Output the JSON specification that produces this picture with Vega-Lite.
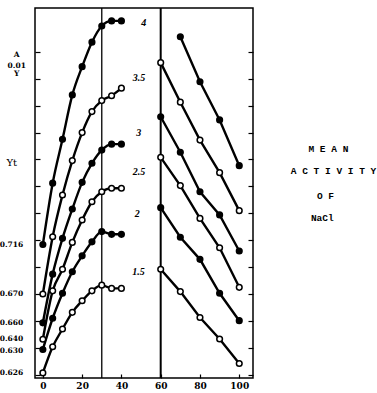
{
  "$schema": "https://vega.github.io/schema/vega-lite/v6.json",
  "width": 218,
  "height": 370,
  "autosize": {"type": "none"},
  "padding": {"left": 35, "top": 8, "right": 124, "bottom": 15},
  "background": "white",
  "config": {
    "view": {"stroke": "black", "strokeWidth": 1.5},
    "axis": {"grid": false, "domain": false, "tickColor": "black", "tickWidth": 1.2}
  },
  "datasets": {
    "rules": [{"x": 30}, {"x": 60}],
    "curves": [
      {"m": "4", "panel": "L", "marker": "filled", "x": 0, "y": 4.84},
      {"m": "4", "panel": "L", "marker": "filled", "x": 5, "y": 7.12},
      {"m": "4", "panel": "L", "marker": "filled", "x": 10, "y": 8.75},
      {"m": "4", "panel": "L", "marker": "filled", "x": 15, "y": 10.40},
      {"m": "4", "panel": "L", "marker": "filled", "x": 20, "y": 11.45},
      {"m": "4", "panel": "L", "marker": "filled", "x": 25, "y": 12.36},
      {"m": "4", "panel": "L", "marker": "filled", "x": 30, "y": 12.96},
      {"m": "4", "panel": "L", "marker": "filled", "x": 35, "y": 13.15},
      {"m": "4", "panel": "L", "marker": "filled", "x": 40, "y": 13.15},
      {"m": "3.5", "panel": "L", "marker": "open", "x": 0, "y": 3.00},
      {"m": "3.5", "panel": "L", "marker": "open", "x": 5, "y": 5.13},
      {"m": "3.5", "panel": "L", "marker": "open", "x": 10, "y": 6.68},
      {"m": "3.5", "panel": "L", "marker": "open", "x": 15, "y": 7.96},
      {"m": "3.5", "panel": "L", "marker": "open", "x": 20, "y": 9.00},
      {"m": "3.5", "panel": "L", "marker": "open", "x": 25, "y": 9.78},
      {"m": "3.5", "panel": "L", "marker": "open", "x": 30, "y": 10.19},
      {"m": "3.5", "panel": "L", "marker": "open", "x": 35, "y": 10.37},
      {"m": "3.5", "panel": "L", "marker": "open", "x": 40, "y": 10.65},
      {"m": "3", "panel": "L", "marker": "filled", "x": 0, "y": 1.93},
      {"m": "3", "panel": "L", "marker": "filled", "x": 5, "y": 3.74},
      {"m": "3", "panel": "L", "marker": "filled", "x": 10, "y": 5.07},
      {"m": "3", "panel": "L", "marker": "filled", "x": 15, "y": 6.16},
      {"m": "3", "panel": "L", "marker": "filled", "x": 20, "y": 7.15},
      {"m": "3", "panel": "L", "marker": "filled", "x": 25, "y": 7.86},
      {"m": "3", "panel": "L", "marker": "filled", "x": 30, "y": 8.35},
      {"m": "3", "panel": "L", "marker": "filled", "x": 35, "y": 8.57},
      {"m": "3", "panel": "L", "marker": "filled", "x": 40, "y": 8.57},
      {"m": "2.5", "panel": "L", "marker": "open", "x": 0, "y": 1.32},
      {"m": "2.5", "panel": "L", "marker": "open", "x": 5, "y": 3.12},
      {"m": "2.5", "panel": "L", "marker": "open", "x": 10, "y": 3.92},
      {"m": "2.5", "panel": "L", "marker": "open", "x": 15, "y": 4.92},
      {"m": "2.5", "panel": "L", "marker": "open", "x": 20, "y": 5.75},
      {"m": "2.5", "panel": "L", "marker": "open", "x": 25, "y": 6.43},
      {"m": "2.5", "panel": "L", "marker": "open", "x": 30, "y": 6.80},
      {"m": "2.5", "panel": "L", "marker": "open", "x": 35, "y": 6.93},
      {"m": "2.5", "panel": "L", "marker": "open", "x": 40, "y": 6.93},
      {"m": "2", "panel": "L", "marker": "filled", "x": 0, "y": 0.94},
      {"m": "2", "panel": "L", "marker": "filled", "x": 5, "y": 2.10},
      {"m": "2", "panel": "L", "marker": "filled", "x": 10, "y": 3.03},
      {"m": "2", "panel": "L", "marker": "filled", "x": 15, "y": 3.83},
      {"m": "2", "panel": "L", "marker": "filled", "x": 20, "y": 4.42},
      {"m": "2", "panel": "L", "marker": "filled", "x": 25, "y": 4.94},
      {"m": "2", "panel": "L", "marker": "filled", "x": 30, "y": 5.32},
      {"m": "2", "panel": "L", "marker": "filled", "x": 35, "y": 5.22},
      {"m": "2", "panel": "L", "marker": "filled", "x": 40, "y": 5.22},
      {"m": "1.5", "panel": "L", "marker": "open", "x": 0, "y": 0.07},
      {"m": "1.5", "panel": "L", "marker": "open", "x": 5, "y": 1.04},
      {"m": "1.5", "panel": "L", "marker": "open", "x": 10, "y": 1.70},
      {"m": "1.5", "panel": "L", "marker": "open", "x": 15, "y": 2.32},
      {"m": "1.5", "panel": "L", "marker": "open", "x": 20, "y": 2.75},
      {"m": "1.5", "panel": "L", "marker": "open", "x": 25, "y": 3.12},
      {"m": "1.5", "panel": "L", "marker": "open", "x": 30, "y": 3.33},
      {"m": "1.5", "panel": "L", "marker": "open", "x": 35, "y": 3.21},
      {"m": "1.5", "panel": "L", "marker": "open", "x": 40, "y": 3.21},
      {"m": "4", "panel": "R", "marker": "filled", "x": 70, "y": 12.56},
      {"m": "4", "panel": "R", "marker": "filled", "x": 80, "y": 10.89},
      {"m": "4", "panel": "R", "marker": "filled", "x": 90, "y": 9.47},
      {"m": "4", "panel": "R", "marker": "filled", "x": 100, "y": 7.77},
      {"m": "3.5", "panel": "R", "marker": "open", "x": 60, "y": 11.60},
      {"m": "3.5", "panel": "R", "marker": "open", "x": 70, "y": 10.13},
      {"m": "3.5", "panel": "R", "marker": "open", "x": 80, "y": 8.72},
      {"m": "3.5", "panel": "R", "marker": "open", "x": 90, "y": 7.51},
      {"m": "3.5", "panel": "R", "marker": "open", "x": 100, "y": 6.10},
      {"m": "3", "panel": "R", "marker": "filled", "x": 60, "y": 9.59},
      {"m": "3", "panel": "R", "marker": "filled", "x": 70, "y": 8.27},
      {"m": "3", "panel": "R", "marker": "filled", "x": 80, "y": 6.80},
      {"m": "3", "panel": "R", "marker": "filled", "x": 90, "y": 5.94},
      {"m": "3", "panel": "R", "marker": "filled", "x": 100, "y": 4.60},
      {"m": "2.5", "panel": "R", "marker": "open", "x": 60, "y": 8.08},
      {"m": "2.5", "panel": "R", "marker": "open", "x": 70, "y": 7.03},
      {"m": "2.5", "panel": "R", "marker": "open", "x": 80, "y": 5.81},
      {"m": "2.5", "panel": "R", "marker": "open", "x": 90, "y": 4.72},
      {"m": "2.5", "panel": "R", "marker": "open", "x": 100, "y": 3.25},
      {"m": "2", "panel": "R", "marker": "filled", "x": 60, "y": 6.21},
      {"m": "2", "panel": "R", "marker": "filled", "x": 70, "y": 5.11},
      {"m": "2", "panel": "R", "marker": "filled", "x": 80, "y": 4.29},
      {"m": "2", "panel": "R", "marker": "filled", "x": 90, "y": 3.03},
      {"m": "2", "panel": "R", "marker": "filled", "x": 100, "y": 2.01},
      {"m": "1.5", "panel": "R", "marker": "open", "x": 60, "y": 3.92},
      {"m": "1.5", "panel": "R", "marker": "open", "x": 70, "y": 3.09},
      {"m": "1.5", "panel": "R", "marker": "open", "x": 80, "y": 2.13},
      {"m": "1.5", "panel": "R", "marker": "open", "x": 90, "y": 1.33},
      {"m": "1.5", "panel": "R", "marker": "open", "x": 100, "y": 0.42}
    ],
    "mlabels": [
      {"x": 51.4, "y": 13.09, "label": "4"},
      {"x": 49.0, "y": 11.02, "label": "3.5"},
      {"x": 48.8, "y": 8.97, "label": "3"},
      {"x": 49.0, "y": 7.52, "label": "2.5"},
      {"x": 48.0, "y": 5.97, "label": "2"},
      {"x": 48.7, "y": 3.83, "label": "1.5"}
    ],
    "ylabels": [
      {"x": -16, "y": 4.82, "label": "0.716"},
      {"x": -16, "y": 2.99, "label": "0.670"},
      {"x": -16, "y": 1.91, "label": "0.660"},
      {"x": -16, "y": 1.32, "label": "0.640"},
      {"x": -16, "y": 0.89, "label": "0.630"},
      {"x": -16, "y": 0.07, "label": "0.626"},
      {"x": -13.3, "y": 11.88, "label": "A"},
      {"x": -13.3, "y": 11.49, "label": "0.01"},
      {"x": -13.3, "y": 11.18, "label": "Y"}
    ],
    "ytitle": [{"x": -15.8, "y": 7.87, "label": "Yt"}],
    "title": [
      {"x": 145.4, "y": 8.39, "label": "M E A N"},
      {"x": 148.0, "y": 7.57, "label": "A C T I V I T Y"},
      {"x": 143.9, "y": 6.64, "label": "O F"},
      {"x": 142.3, "y": 5.83, "label": "NaCl"}
    ]
  },
  "encoding": {
    "x": {
      "field": "x",
      "type": "quantitative",
      "title": null,
      "scale": {"domain": [-4, 107], "nice": false, "zero": false},
      "axis": {
        "values": [0, 20, 40, 60, 80, 100],
        "offset": -4,
        "tickSize": 4,
        "labelFont": "DejaVu Serif",
        "labelFontWeight": "bold",
        "labelFontSize": 9,
        "labelColor": "black",
        "labelPadding": 3,
        "title": null
      }
    }
  },
  "layer": [
    {
      "data": {"name": "rules"},
      "transform": [{"filter": "datum.x == 30"}],
      "mark": {"type": "rule", "color": "black", "strokeWidth": 1.3},
      "encoding": {}
    },
    {
      "data": {"name": "rules"},
      "transform": [{"filter": "datum.x == 60"}],
      "mark": {"type": "rule", "color": "black", "strokeWidth": 2},
      "encoding": {}
    },
    {
      "data": {"name": "curves"},
      "transform": [{"filter": "datum.panel == 'L'"}],
      "mark": {"type": "line", "interpolate": "monotone", "color": "black", "strokeWidth": 2.4},
      "encoding": {
        "y": {"field": "y", "type": "quantitative", "title": null,
              "scale": {"domain": [-0.12, 13.63], "nice": false, "zero": false},
              "axis": {"orient": "left", "values": [0,1,2,3,4,5,6,7,8,9,10,11,12], "offset": -5, "tickSize": 5, "labels": false, "title": null}},
        "detail": {"field": "m"}
      }
    },
    {
      "data": {"name": "curves"},
      "transform": [{"filter": "datum.panel == 'R'"}],
      "mark": {"type": "line", "color": "black", "strokeWidth": 2.4},
      "encoding": {
        "y": {"field": "y", "type": "quantitative", "title": null,
              "scale": {"domain": [-0.12, 13.63], "nice": false, "zero": false},
              "axis": {"orient": "right", "values": [0,1,2,3,4,5,6,7,8,9,10,11,12], "offset": -5, "tickSize": 5, "labels": false, "title": null}},
        "detail": {"field": "m"}
      }
    },
    {
      "data": {"name": "curves"},
      "mark": {"type": "point", "shape": "circle", "filled": true, "stroke": "black", "strokeWidth": 1.5, "size": 32, "opacity": 1},
      "encoding": {
        "y": {"field": "y", "type": "quantitative", "title": null,
              "scale": {"domain": [-0.12, 13.63], "nice": false, "zero": false}, "axis": null},
        "fill": {"field": "marker", "type": "nominal",
                 "scale": {"domain": ["filled", "open"], "range": ["black", "white"]}, "legend": null}
      }
    },
    {
      "data": {"name": "mlabels"},
      "mark": {"type": "text", "font": "Liberation Serif", "fontStyle": "italic", "fontWeight": "bold", "fontSize": 10, "align": "center", "baseline": "middle", "color": "black"},
      "encoding": {
        "y": {"field": "y", "type": "quantitative", "title": null,
              "scale": {"domain": [-0.12, 13.63], "nice": false, "zero": false}, "axis": null},
        "text": {"field": "label"}
      }
    },
    {
      "data": {"name": "ylabels"},
      "mark": {"type": "text", "font": "DejaVu Serif", "fontWeight": "bold", "fontSize": 7.5, "align": "center", "baseline": "middle", "color": "black"},
      "encoding": {
        "y": {"field": "y", "type": "quantitative", "title": null,
              "scale": {"domain": [-0.12, 13.63], "nice": false, "zero": false}, "axis": null},
        "text": {"field": "label"}
      }
    },
    {
      "data": {"name": "ytitle"},
      "mark": {"type": "text", "font": "DejaVu Serif", "fontSize": 10, "align": "center", "baseline": "middle", "color": "black"},
      "encoding": {
        "y": {"field": "y", "type": "quantitative", "title": null,
              "scale": {"domain": [-0.12, 13.63], "nice": false, "zero": false}, "axis": null},
        "text": {"field": "label"}
      }
    },
    {
      "data": {"name": "title"},
      "mark": {"type": "text", "font": "Liberation Mono", "fontWeight": "bold", "fontSize": 9.5, "align": "center", "baseline": "middle", "color": "black"},
      "encoding": {
        "y": {"field": "y", "type": "quantitative", "title": null,
              "scale": {"domain": [-0.12, 13.63], "nice": false, "zero": false}, "axis": null},
        "text": {"field": "label"}
      }
    }
  ],
  "resolve": {"axis": {"y": "independent"}}
}
